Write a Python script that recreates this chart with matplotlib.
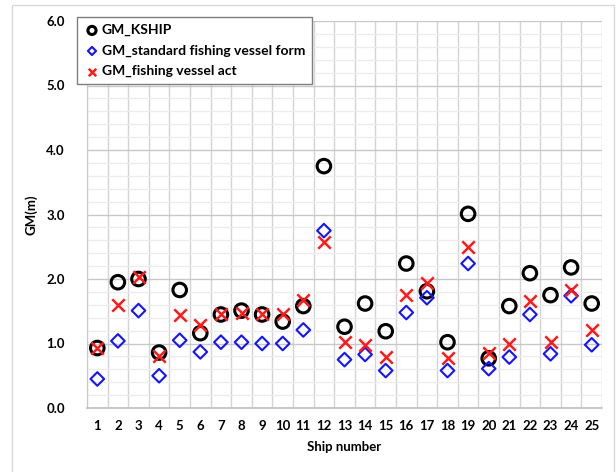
import matplotlib
matplotlib.use("Agg")
import matplotlib.pyplot as plt
from matplotlib.ticker import MultipleLocator
from matplotlib.patches import Rectangle

plt.rcParams['font.family'] = ['Lato', 'DejaVu Sans']

ships = list(range(1, 26))
gm_kship = [0.93, 1.95, 2.00, 0.86, 1.83, 1.16, 1.45, 1.51, 1.45, 1.34, 1.58, 3.75, 1.26,
            1.62, 1.19, 2.24, 1.81, 1.02, 3.01, 0.77, 1.58, 2.09, 1.75, 2.18, 1.62]
gm_standard = [0.45, 1.04, 1.51, 0.50, 1.05, 0.87, 1.02, 1.02, 1.00, 1.00, 1.21, 2.75, 0.75,
               0.83, 0.58, 1.48, 1.71, 0.58, 2.24, 0.61, 0.79, 1.45, 0.84, 1.74, 0.98]
gm_act = [0.93, 1.59, 2.03, 0.80, 1.44, 1.28, 1.46, 1.47, 1.45, 1.46, 1.67, 2.57, 1.02,
          0.97, 0.79, 1.75, 1.94, 0.78, 2.49, 0.86, 1.00, 1.66, 1.02, 1.83, 1.21]
y_ticks = [0.0, 1.0, 2.0, 3.0, 4.0, 5.0, 6.0]

fig = plt.figure(figsize=(6.16, 4.72), dpi=100)
ax = fig.add_axes([87/616, 1-408/472, (602-87)/616, (408-21)/472])

# outer chart border
fig.patches.append(Rectangle((12/616, -0.1), (614-12)/616, 1.1 - 5/472, transform=fig.transFigure,
                             fill=False, edgecolor='#d9d9d9', linewidth=1.0))

ax.scatter(ships, gm_kship, marker='o', s=95, facecolors='none', edgecolors='black',
           linewidths=2.2, label='GM_KSHIP', zorder=3)
ax.scatter(ships, gm_standard, marker='D', s=48, facecolors='none', edgecolors='#1414ff',
           linewidths=1.5, label='GM_standard fishing vessel form', zorder=4)
ax.scatter(ships, gm_act, marker='x', s=80, color='#ff1a1a', linewidths=1.8,
           label='GM_fishing vessel act', zorder=5)

ax.set_xlim(0.5, 25.5)
ax.set_ylim(0, 6.0)
ax.set_xticks(ships)
ax.set_xticklabels([str(s) for s in ships], fontsize=9.5, fontweight='bold')
ax.set_yticks(y_ticks)
ax.set_yticklabels([f"{v:.1f}" for v in y_ticks], fontsize=9.5, fontweight='bold')
ax.yaxis.set_minor_locator(MultipleLocator(0.2))
ax.set_xticks([x + 0.5 for x in range(0, 26)], minor=True)
ax.tick_params(axis='both', which='both', length=0)
ax.tick_params(axis='x', pad=9)
ax.tick_params(axis='y', pad=16)

ax.grid(True, which='major', axis='y', color='#c8c8c8', linewidth=1.0, zorder=0)
ax.grid(True, which='minor', axis='y', color='#ececec', linewidth=0.9, zorder=0)
ax.grid(True, which='minor', axis='x', color='#d4d4d4', linewidth=1.0, zorder=0)
ax.grid(False, which='major', axis='x')
ax.set_axisbelow(True)
for side in ['top', 'right']:
    ax.spines[side].set_visible(False)
ax.spines['left'].set_color('#c8c8c8')
ax.spines['bottom'].set_color('#bfbfbf')
ax.spines['bottom'].set_linewidth(1.2)

ax.set_xlabel('Ship number', fontsize=9.5, fontweight='bold', labelpad=6)
ax.set_ylabel('GM(m)', fontsize=9.5, fontweight='bold', labelpad=6)

leg = ax.legend(loc='upper left', bbox_to_anchor=(-0.02, 1.01), fontsize=10, frameon=True,
                fancybox=False, edgecolor='#7f7f7f', framealpha=1.0, handletextpad=0.1,
                borderpad=0.5, labelspacing=0.6, handlelength=1.2, borderaxespad=0,
                markerscale=0.6)
for t in leg.get_texts():
    t.set_fontweight('bold')
leg.get_frame().set_linewidth(1.0)

fig.savefig('out.png', dpi=100)
